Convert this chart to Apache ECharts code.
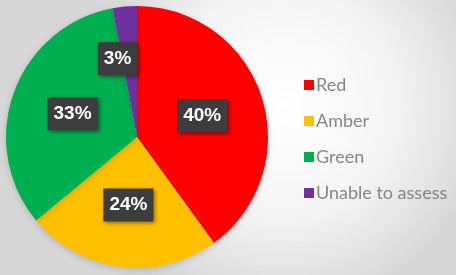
<!DOCTYPE html>
<html>
<head>
<meta charset="utf-8">
<script src="https://cdn.jsdelivr.net/npm/echarts@6/dist/echarts.min.js"></script>
<style>
  html, body { margin: 0; padding: 0; }
  #chart { width: 456px; height: 275px; }
</style>
</head>
<body>
<div id="chart"></div>
<script>
// RAG status split, in percent
const categories = ['Red', 'Amber', 'Green', 'Unable to assess'];
const values = [40, 24, 33, 3];
const colors = ['#ff0000', '#ffc000', '#00b050', '#7030a0'];

const chart = echarts.init(document.getElementById('chart'));

const labelBox = {
  show: true,
  position: 'inside',
  formatter: '{c}%',
  color: '#ffffff',
  fontFamily: 'Liberation Sans, Arial, sans-serif',
  fontWeight: 'bold',
  fontSize: 19,
  backgroundColor: '#3d3d3d',
  padding: [8, 6, 6, 6],
  shadowColor: 'rgba(0,0,0,0.45)',
  shadowBlur: 4,
  shadowOffsetX: 2,
  shadowOffsetY: 2
};

let pieData = categories.map((name, i) => {
  let item = { name: name, value: values[i], itemStyle: { color: colors[i] } };
  // the small slice label sits a bit off its slice in the original
  if (i === 3) item.label = { offset: [-13, -10] };
  return item;
});

chart.setOption({
  backgroundColor: {
    type: 'radial', x: 0.62, y: 0.38, r: 0.75,
    colorStops: [
      { offset: 0, color: '#ffffff' },
      { offset: 0.55, color: '#f4f4f4' },
      { offset: 1, color: '#d6d6d6' }
    ]
  },
  animation: false,
  legend: {
    orient: 'vertical',
    left: 299,
    top: 70,
    icon: 'rect',
    itemWidth: 10,
    itemHeight: 10,
    itemGap: 16,
    data: categories,
    textStyle: {
      color: '#858585',
      fontFamily: 'Lato, sans-serif',
      fontSize: 18,
      lineHeight: 20,
      padding: [0, 0, 0, -3]
    }
  },
  series: [{
    type: 'pie',
    center: [137, 137],
    radius: 131,
    startAngle: 90,
    clockwise: true,
    label: labelBox,
    labelLine: { show: false },
    itemStyle: {
      shadowColor: 'rgba(0,0,0,0.15)',
      shadowBlur: 6,
      shadowOffsetY: 2
    },
    emphasis: { disabled: true },
    data: pieData
  }]
});
</script>
</body>
</html>
